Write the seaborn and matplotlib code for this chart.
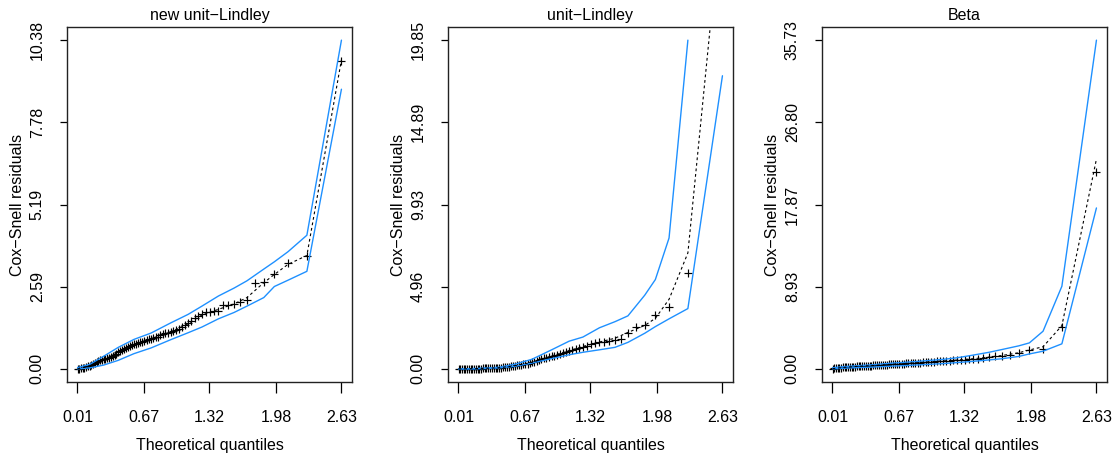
import numpy as np
import matplotlib
matplotlib.use("Agg")
import matplotlib.pyplot as plt
import seaborn as sns

# half-normal scores (x positions of the residual markers)
x_scores = [0.011, 0.028, 0.045, 0.062, 0.079, 0.096, 0.114, 0.131, 0.148, 0.166,
            0.183, 0.200, 0.218, 0.235, 0.253, 0.271, 0.288, 0.306, 0.324, 0.342,
            0.360, 0.378, 0.397, 0.416, 0.435, 0.454, 0.473, 0.492, 0.511, 0.531,
            0.551, 0.571, 0.591, 0.611, 0.632, 0.653, 0.674, 0.696, 0.718, 0.740,
            0.763, 0.786, 0.810, 0.834, 0.858, 0.883, 0.909, 0.935, 0.962, 0.989,
            1.018, 1.047, 1.077, 1.108, 1.140, 1.173, 1.208, 1.245, 1.283, 1.323,
            1.365, 1.409, 1.457, 1.509, 1.564, 1.625, 1.692, 1.770, 1.859, 1.964,
            2.100, 2.287, 2.630]

# observed Cox-Snell residuals
obs_nul = [0.00, 0.01, 0.02, 0.03, 0.04, 0.06, 0.08, 0.10, 0.12, 0.15,
           0.18, 0.22, 0.25, 0.27, 0.29, 0.30, 0.32, 0.33, 0.35, 0.37,
           0.40, 0.43, 0.48, 0.52, 0.56, 0.60, 0.63, 0.66, 0.68, 0.71,
           0.74, 0.77, 0.79, 0.81, 0.84, 0.86, 0.89, 0.91, 0.93, 0.95,
           0.97, 1.00, 1.02, 1.06, 1.09, 1.12, 1.14, 1.17, 1.20, 1.24,
           1.27, 1.31, 1.38, 1.45, 1.52, 1.60, 1.67, 1.73, 1.78, 1.80,
           1.82, 1.84, 2.01, 2.03, 2.06, 2.10, 2.17, 2.71, 2.73, 3.01,
           3.34, 3.55, 9.71]
obs_ul = [0.00, 0.00, 0.00, 0.00, 0.00, 0.01, 0.01, 0.01, 0.01, 0.01,
          0.02, 0.02, 0.02, 0.02, 0.03, 0.03, 0.03, 0.04, 0.04, 0.05,
          0.05, 0.06, 0.06, 0.07, 0.08, 0.09, 0.10, 0.12, 0.13, 0.15,
          0.17, 0.19, 0.21, 0.23, 0.25, 0.27, 0.29, 0.32, 0.36, 0.40,
          0.44, 0.48, 0.54, 0.60, 0.64, 0.68, 0.72, 0.76, 0.80, 0.85,
          0.91, 0.97, 1.03, 1.08, 1.12, 1.18, 1.25, 1.32, 1.40, 1.50,
          1.57, 1.60, 1.63, 1.66, 1.77, 1.81, 2.19, 2.54, 2.65, 3.25,
          3.73, 5.79, 24.0]
obs_beta = [0.02, 0.05, 0.08, 0.10, 0.12, 0.14, 0.16, 0.17, 0.19, 0.20,
            0.21, 0.22, 0.24, 0.25, 0.27, 0.28, 0.29, 0.30, 0.31, 0.33,
            0.34, 0.35, 0.36, 0.37, 0.38, 0.40, 0.41, 0.42, 0.44, 0.45,
            0.47, 0.48, 0.50, 0.51, 0.52, 0.54, 0.55, 0.56, 0.58, 0.59,
            0.61, 0.62, 0.64, 0.66, 0.67, 0.69, 0.71, 0.73, 0.75, 0.77,
            0.79, 0.81, 0.83, 0.85, 0.87, 0.89, 0.91, 0.93, 0.96, 0.99,
            1.02, 1.06, 1.12, 1.20, 1.30, 1.38, 1.45, 1.56, 1.74, 2.10,
            2.17, 4.56, 21.4]

# simulated envelope (lower / median / upper), read at these scores
env_x = [0.011, 0.131, 0.271, 0.416, 0.571, 0.740, 0.935, 1.108, 1.245,
         1.409, 1.564, 1.692, 1.859, 1.964, 2.100, 2.287, 2.630]

lo_nul = [0.00, 0.03, 0.12, 0.27, 0.48, 0.66, 0.92, 1.14, 1.32,
          1.58, 1.78, 1.98, 2.25, 2.60, 2.80, 3.08, 8.83]
med_nul = [0.00, 0.09, 0.30, 0.52, 0.76, 0.95, 1.17, 1.42, 1.70,
           1.88, 2.05, 2.25, 2.72, 2.98, 3.30, 3.58, 9.76]
up_nul = [0.04, 0.14, 0.40, 0.68, 0.93, 1.13, 1.45, 1.72, 1.98,
          2.30, 2.55, 2.78, 3.15, 3.38, 3.70, 4.22, 10.38]

lo_ul = [0.00, 0.00, 0.02, 0.06, 0.15, 0.35, 0.62, 0.85, 1.00,
         1.15, 1.30, 1.60, 2.15, 2.55, 3.02, 3.64, 17.70]
med_ul = [0.00, 0.01, 0.03, 0.07, 0.19, 0.40, 0.78, 1.10, 1.35,
          1.62, 1.85, 2.20, 2.62, 3.05, 4.20, 7.00, 28.1]
up_ul = [0.00, 0.01, 0.04, 0.10, 0.28, 0.58, 1.15, 1.67, 1.92,
         2.48, 2.85, 3.20, 4.45, 5.39, 7.90, 19.85, np.nan]

lo_beta = [0.00, 0.08, 0.14, 0.20, 0.28, 0.36, 0.47, 0.57, 0.68,
           0.82, 0.97, 1.10, 1.35, 1.62, 1.92, 2.72, 17.49]
med_beta = [0.02, 0.17, 0.28, 0.37, 0.48, 0.59, 0.73, 0.86, 0.95,
            1.10, 1.28, 1.45, 1.75, 2.05, 2.40, 4.70, 22.8]
up_beta = [0.12, 0.25, 0.35, 0.45, 0.60, 0.72, 0.88, 1.03, 1.20,
           1.50, 1.80, 2.10, 2.50, 2.82, 4.09, 8.98, 35.73]

titles = ["new unit\u2212Lindley", "unit\u2212Lindley", "Beta"]
x_ticks = [0.01, 0.67, 1.32, 1.98, 2.63]
x_labels = ["0.01", "0.67", "1.32", "1.98", "2.63"]
y_labels = [["0.00", "2.59", "5.19", "7.78", "10.38"],
            ["0.00", "4.96", "9.93", "14.89", "19.85"],
            ["0.00", "8.93", "17.87", "26.80", "35.73"]]
y_max = [10.38, 19.85, 35.73]

sns.set_theme(style="ticks")
plt.rcParams["font.family"] = ["Liberation Sans", "DejaVu Sans"]
plt.rcParams.update({"text.color": "black", "axes.labelcolor": "black",
                     "xtick.color": "black", "ytick.color": "black"})

fig = plt.figure(figsize=(11.12, 4.59), dpi=100)
lefts = [67, 448, 822]
panels = [(obs_nul, lo_nul, med_nul, up_nul),
          (obs_ul, lo_ul, med_ul, up_ul),
          (obs_beta, lo_beta, med_beta, up_beta)]
blue = "#1E90FF"

for k in range(3):
    ax = fig.add_axes([lefts[k] / 1112, 1 - 382 / 459, 285 / 1112, 355 / 459])
    obs, lo, med, up = panels[k]
    sns.lineplot(x=env_x, y=lo, ax=ax, color=blue, lw=1.0, estimator=None, sort=False)
    sns.lineplot(x=env_x, y=up, ax=ax, color=blue, lw=1.0, estimator=None, sort=False)
    sns.lineplot(x=env_x, y=med, ax=ax, color="black", lw=0.8, estimator=None,
                 sort=False, linestyle=(0, (2.5, 2.5)))
    sns.scatterplot(x=x_scores, y=obs, ax=ax, marker="+", color="black", s=26,
                    linewidth=0.85)

    ym = y_max[k]
    ax.set_xlim(0.011 - 0.04 * 2.619, 2.63 + 0.04 * 2.619)
    ax.set_ylim(-0.04 * ym, 1.04 * ym)
    ax.set_xticks(x_ticks, x_labels, fontsize=11.5)
    ax.set_yticks(np.linspace(0, ym, 5), y_labels[k], fontsize=11.5,
                  rotation=90, va="center")
    ax.tick_params(axis="x", length=8, width=0.9, pad=12)
    ax.tick_params(axis="y", length=5, width=0.9, pad=11)
    for s in ax.spines.values():
        s.set_color("#222222")
        s.set_linewidth(1.0)
    ax.set_title(titles[k], fontsize=11.5, pad=5)
    ax.set_xlabel("Theoretical quantiles", fontsize=11.5, va="top")
    ax.xaxis.set_label_coords(0.5, -0.158)
    ax.set_ylabel("Cox\u2212Snell residuals", fontsize=11.5, va="center")
    ax.yaxis.set_label_coords(-0.175, 0.5)

fig.savefig("out.png", dpi=100)
